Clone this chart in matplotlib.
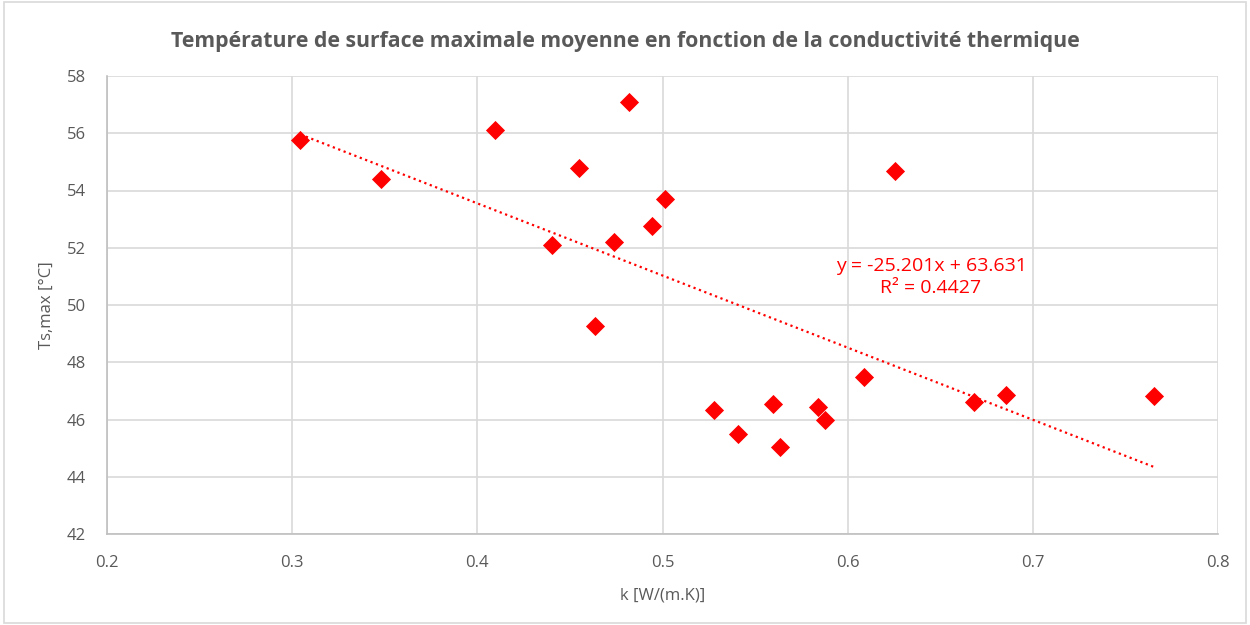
import numpy as np
import matplotlib
matplotlib.use('Agg')
import matplotlib.pyplot as plt
from matplotlib.patches import Rectangle

# donnees
k = [0.3045, 0.3479, 0.4096, 0.4817, 0.4550, 0.5011, 0.4941, 0.4736, 0.4401, 0.4638,
     0.5278, 0.5409, 0.5596, 0.5637, 0.5842, 0.5877, 0.6086, 0.6258, 0.6683, 0.6854, 0.7653]
ts_max = [55.77, 54.41, 56.13, 57.08, 54.78, 53.71, 52.76, 52.20, 52.08, 49.25,
          46.34, 45.51, 46.54, 45.05, 46.45, 45.99, 47.48, 54.68, 46.62, 46.84, 46.83]

# courbe de tendance (Excel)
slope = -25.201
intercept = 63.631
r2 = 0.4427

plt.rcParams['font.family'] = ['Open Sans', 'DejaVu Sans']
grey = '#595959'

fig = plt.figure(figsize=(12.5, 6.25), dpi=100)
ax = fig.add_axes([0.0856, 0.1456, 0.8888, 0.7328])

fig.patches.append(Rectangle((0.003, 0.003), 0.994, 0.994, transform=fig.transFigure,
                             fill=False, edgecolor='#d9d9d9', linewidth=1.2))

ax.scatter(k, ts_max, marker='D', s=95, color='#ff0000', zorder=3, linewidths=0)

xt = np.array([min(k), max(k)])
ax.plot(xt, slope * xt + intercept, color='#ff0000', linestyle=(0, (1, 1.6)), linewidth=1.6, zorder=2)

ax.text(0.645, 50.98, 'y = -25.201x + 63.631\nR² = 0.4427', color='#ff0000', fontsize=14,
        ha='center', va='center', linespacing=1.3)

ax.set_xlim(0.2, 0.8)
ax.set_ylim(42, 58)
ax.set_xticks(np.arange(0.2, 0.81, 0.1))
ax.set_yticks(np.arange(42, 59, 2))
ax.set_xticklabels(['0.2', '0.3', '0.4', '0.5', '0.6', '0.7', '0.8'])
ax.grid(True, color='#d9d9d9', linewidth=1.2)
ax.set_axisbelow(True)
for s in ['top', 'right']:
    ax.spines[s].set_visible(False)
for s in ['left', 'bottom']:
    ax.spines[s].set_color('#bfbfbf')
    ax.spines[s].set_linewidth(1.2)
ax.tick_params(length=0, colors=grey, labelsize=12, pad=15)

ax.set_xlabel('k [W/(m.K)]', color=grey, fontsize=12, labelpad=12)
ax.set_ylabel('Ts,max [°C]', color=grey, fontsize=12, labelpad=9)
fig.suptitle('Température de surface maximale moyenne en fonction de la conductivité thermique',
             color=grey, fontsize=15.3, fontweight='bold', y=0.95)

fig.savefig('out.png', dpi=100)
